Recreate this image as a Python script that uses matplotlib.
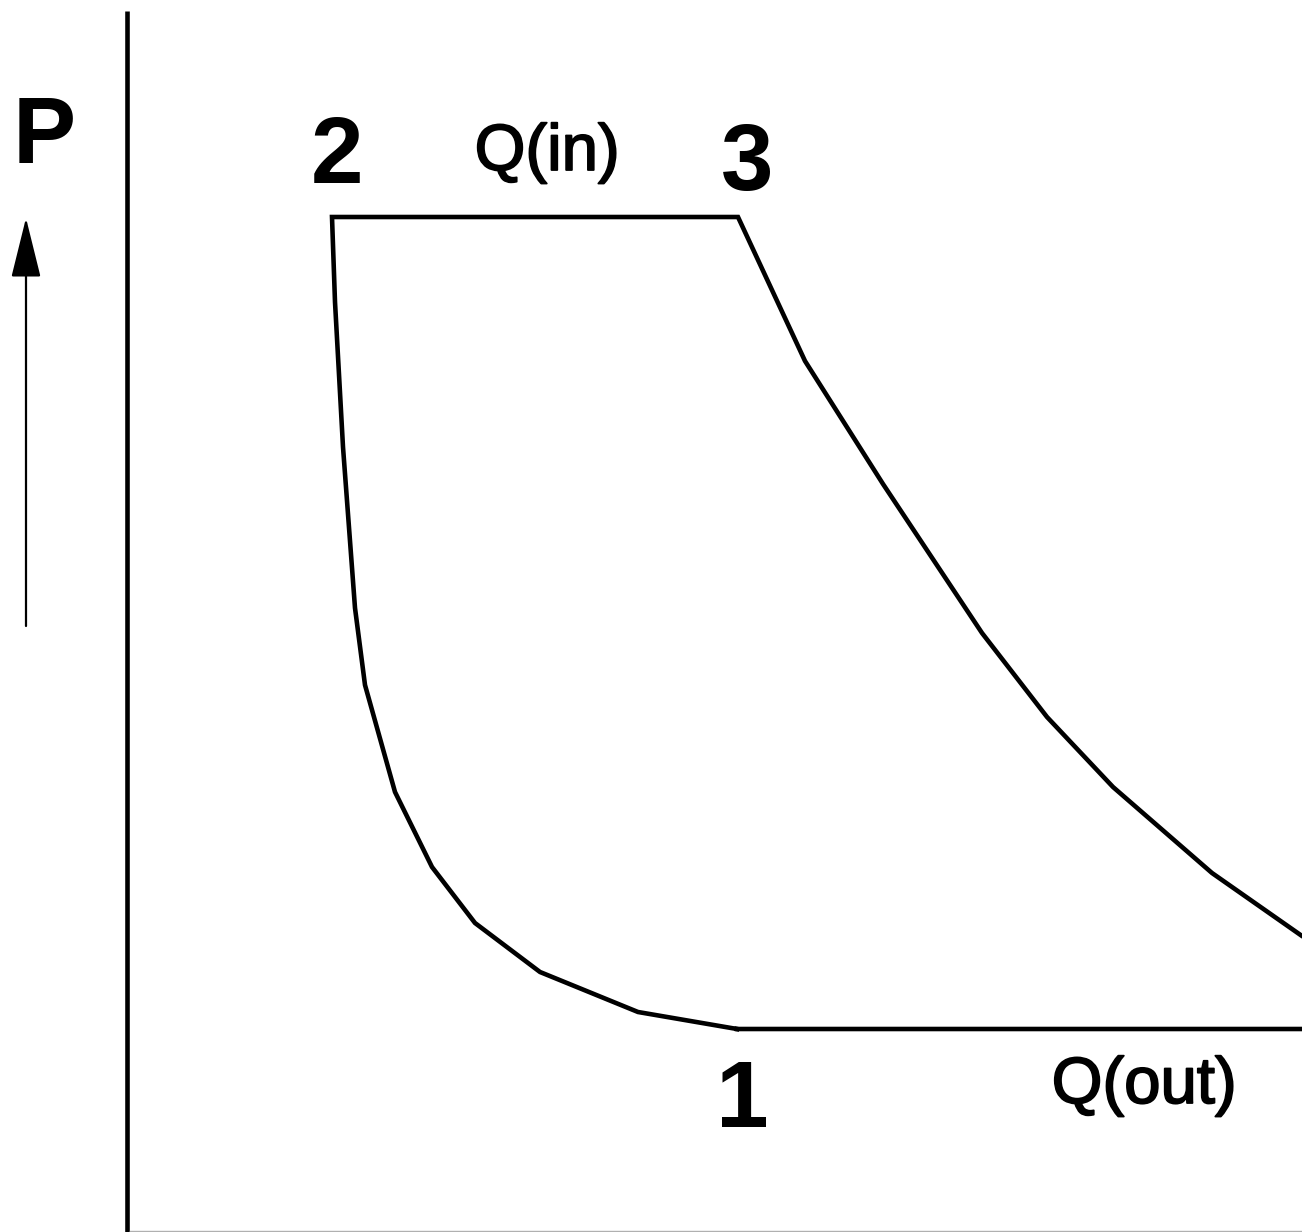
import numpy as np
import matplotlib
matplotlib.use("Agg")
import matplotlib.pyplot as plt
import matplotlib.patheffects as pe

plt.rcParams['font.family'] = ['Liberation Sans', 'DejaVu Sans']

# Brayton cycle, P-V plane (arbitrary units)
# 1 -> 2 : isentropic compression
comp_v = [6.10, 5.11, 4.13, 3.48, 3.05, 2.68, 2.38, 2.28, 2.16, 2.08, 2.05]
comp_p = [2.02, 2.19, 2.59, 3.08, 3.64, 4.39, 5.46, 6.23, 7.84, 9.29, 10.14]
# 3 -> 4 : isentropic expansion (runs off the right edge)
exp_v = [6.11, 6.78, 7.56, 8.55, 9.20, 9.86, 10.85, 11.75, 13.50]
exp_p = [10.14, 8.70, 7.47, 5.98, 5.14, 4.44, 3.58, 2.95, 2.02]

state_labels = ['1', '2', '3']
heat_labels = ['Q(in)', 'Q(out)']

# closed loop 1-2-3-4-1
cycle_v = np.r_[comp_v, exp_v, comp_v[0]]
cycle_p = np.r_[comp_p, exp_p, comp_p[0]]

fig = plt.figure(figsize=(13.02, 12.32), dpi=100)
ax = fig.add_axes([0, 0, 1, 1])
ax.set_xlim(-1.27, 11.75)
ax.set_ylim(-0.01, 12.31)
ax.axis('off')

ax.plot(cycle_v, cycle_p, color='black', lw=3.3, solid_joinstyle='miter', clip_on=True)

# axes lines
ax.plot([0, 0], [-0.01, 12.20], color='black', lw=3.3, solid_capstyle='butt')
ax.plot([0.03, 11.75], [0.005, 0.005], color='#b0b0b0', lw=1.0)

# pressure arrow
ax.annotate('', xy=(-1.01, 10.13), xytext=(-1.01, 6.05),
            arrowprops=dict(arrowstyle='-|>,head_length=1.9,head_width=0.47',
                            mutation_scale=20, lw=1.6, color='black',
                            shrinkA=0, shrinkB=0))
ax.text(-0.83, 12.31 - 1.63, 'P', fontsize=68, fontweight='bold',
        ha='center', va='baseline')

# state points
ax.text(6.15, 1.04, state_labels[0], fontsize=68, fontweight='bold', ha='center', va='baseline')
ax.text(2.10, 10.48, state_labels[1], fontsize=68, fontweight='bold', ha='center', va='baseline')
ax.text(6.20, 10.41, state_labels[2], fontsize=68, fontweight='bold', ha='center', va='baseline')

# heat transfer
heavy = [pe.withStroke(linewidth=1.3, foreground='black')]
ax.text(4.20, 10.61, heat_labels[0], fontsize=47, ha='center', va='baseline',
        path_effects=heavy)
ax.text(10.17, 1.28, heat_labels[1], fontsize=47, ha='center', va='baseline',
        path_effects=heavy)

fig.savefig('out.png', dpi=100, facecolor='white')
